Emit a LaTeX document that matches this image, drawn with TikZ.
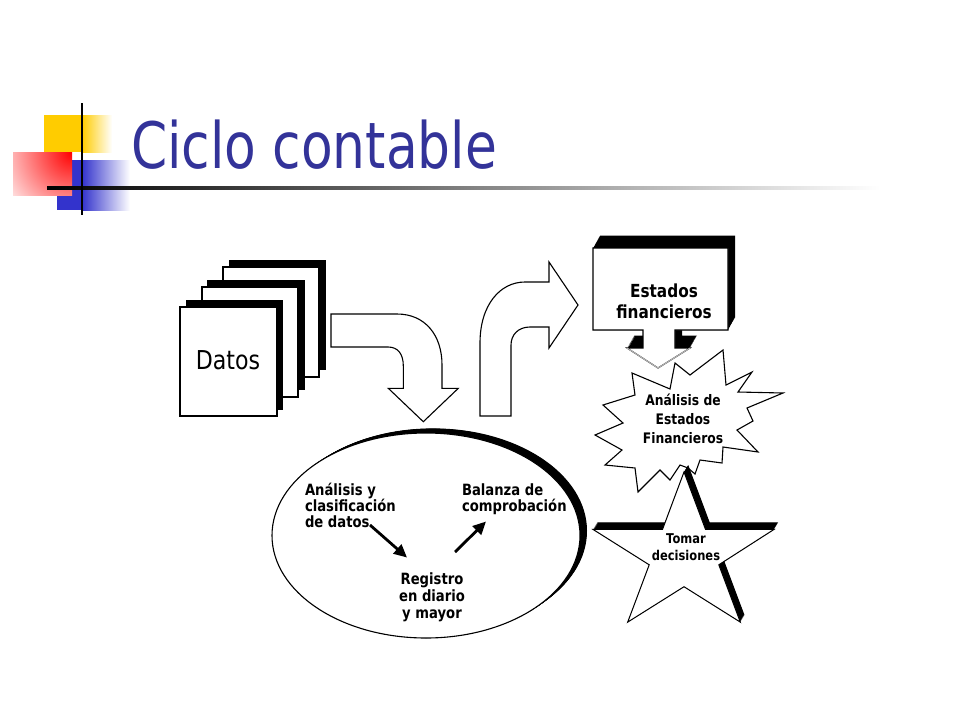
\documentclass[tikz,border=0pt]{standalone}
\usepackage{fontspec}
\setmainfont{DejaVu Sans}[FakeStretch=0.85]
\newfontfamily\titlefont{DejaVu Sans}[FakeStretch=0.81]
\usetikzlibrary{arrows.meta}
\definecolor{titleblue}{RGB}{51,51,153}
\definecolor{decoyellow}{RGB}{255,204,0}
\definecolor{decoblue}{RGB}{51,51,204}
\definecolor{decored}{RGB}{255,0,0}
\tikzset{
  outl/.style={draw=black, line width=1.1pt, fill=white, line join=miter},
  txt/.style={inner sep=0pt, outer sep=0pt},
  inarrow/.style={line width=2.8pt, -{Triangle[length=13pt,width=12pt]}},
  estshape/.pic={\path[pic actions] (593,248) -- (728,248) -- (728,330) -- (675,330) -- (675,348) -- (690,348) -- (658,368) -- (627,348) -- (643,348) -- (643,330) -- (593,330) -- cycle;},
  starshape/.pic={\path[pic actions] (684,472) -- (705.5,529.4) -- (774,529.4) -- (718.8,564.8) -- (740.3,622.1) -- (684,586.7) -- (627.7,622.1) -- (649.2,564.8) -- (593,529.4) -- (662.5,529.4) -- cycle;},
}
\begin{document}
\begin{tikzpicture}[x=1pt,y=-1pt]
\useasboundingbox (0,0) rectangle (960,720);
\fill[white] (0,0) rectangle (960,720);
% title decoration
\fill[decoyellow] (44,115) rectangle (82,152);
\shade[left color=decoyellow, right color=white] (82,115) rectangle (112,152);
\fill[decoblue] (57,160) rectangle (82,210);
\shade[left color=decoblue, right color=white] (82,160) rectangle (130,210);
\begin{scope}
  \clip (13,152) rectangle (72,195);
  \fill[white] (13,152) rectangle (72,195);
  \shade[inner color=decored, outer color=white] (72,152) circle (85pt);
\end{scope}
\shade[left color=black, middle color=black!70, right color=white] (47,186.5) rectangle (880,189.5);
\draw[line width=2pt] (81.5,103) -- (81.5,215);
\node[txt, font=\titlefont\fontsize{64}{70}\selectfont, text=titleblue, anchor=base west] (title) at (131,168.3) {Ciclo contable};
% Datos pages
\fill[black] (229,260) rectangle (326,370);
\draw[outl] (223,267) rectangle (319,377);
\fill[black] (207,280) rectangle (305,390);
\draw[outl] (202,287) rectangle (298,397);
\fill[black] (186,300) rectangle (283,410);
\draw[outl] (180,307) rectangle (277,416);
\node[txt, font=\fontsize{26}{30}\selectfont, anchor=base] (datos) at (228,369.3) {Datos};
% curved arrow down
\draw[outl] (331,314) -- (397,314) .. controls (425,314) and (442,335) .. (442,365) -- (442,388.3) -- (458.3,388.3) -- (423.3,421.7) -- (388.3,388.3) -- (403.3,388.3) -- (403.3,366) .. controls (403.3,354) and (398,347) .. (388,347) -- (331,347) -- cycle;
% curved arrow up-right
\draw[outl] (480,416) -- (480,343) .. controls (480,305) and (500,282) .. (525,282) -- (549,282) -- (549,262) -- (578,305) -- (549,348) -- (549,327) -- (530,327) .. controls (518,327) and (511,335) .. (511,345) -- (511,416) -- cycle;
% ellipse
\foreach \i in {0,...,14} \fill[black] ({426+0.5*\i},{535.5-0.33*\i}) ellipse [x radius=154pt, y radius=102.5pt];
\draw[outl] (426,535.5) ellipse [x radius=154pt, y radius=102.5pt];
\node[txt, font=\bfseries\fontsize{15.5}{16.2}\selectfont, align=left, anchor=base west] (analisis) at (305,527.5) {Análisis y\\clasificación\\de datos};
\node[txt, font=\bfseries\fontsize{15.5}{16}\selectfont, align=left, anchor=base west] (balanza) at (462,511) {Balanza de\\comprobación};
\node[txt, font=\bfseries\fontsize{15.5}{17}\selectfont, align=center, anchor=base] (registro) at (432,618) {Registro\\en diario\\y mayor};
\coordinate (a1s) at (370,525);
\coordinate (a1e) at (407,557.5);
\coordinate (a2s) at (455,552);
\coordinate (a2e) at (486,521.5);
\draw[inarrow] (a1s) -- (a1e);
\draw[inarrow] (a2s) -- (a2e);
% Estados financieros box
\foreach \i in {0,...,20} \pic[fill=black] at ({0.35*\i},{-0.625*\i}) {estshape};
\pic[outl] {estshape};
\draw[gray!60, line width=1.1pt] (627,348) -- (658,368) -- (690,348);
\node[txt, font=\bfseries\fontsize{18}{21}\selectfont, align=center, anchor=base] (estados) at (664,318) {Estados\\financieros};
% starburst
\draw[outl] (632,373) -- (670,389) -- (675,363) -- (690,375) -- (723,350) -- (726,385) -- (752,372) -- (738,392) -- (783,393) -- (747,408) -- (753,421) -- (737,430) -- (758,452) -- (723,447) -- (722,463) -- (700,460) -- (695,474) -- (688,468) -- (680,465) -- (670,480) -- (660,470) -- (638,492) -- (635,468) -- (605,465) -- (622,450) -- (595,435) -- (623,423) -- (603,405) -- (635,395) -- cycle;
% star
\foreach \i in {0,...,14} \pic[fill=black] at ({0.3*\i},{-0.5*\i}) {starshape};
\pic[outl, line width=1pt] {starshape};
\node[txt, font=\bfseries\fontsize{14.5}{18.8}\selectfont, align=center, anchor=base] (aef) at (683,443.3) {Análisis de\\Estados\\Financieros};
\node[txt, font=\bfseries\fontsize{13.5}{17.5}\selectfont, align=center, anchor=base] (tomar) at (686,560.5) {Tomar\\decisiones};
\end{tikzpicture}
\end{document}
